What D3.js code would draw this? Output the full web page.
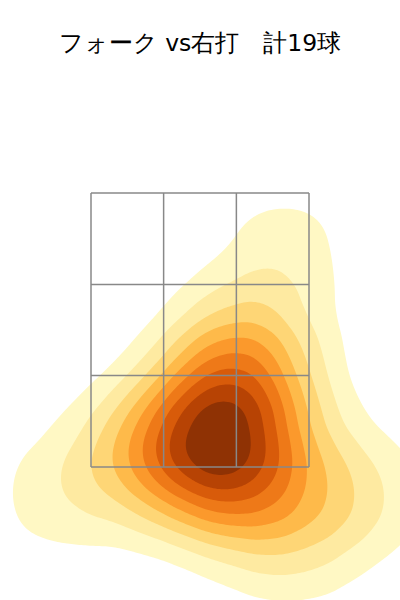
<!DOCTYPE html>
<html><head><meta charset="utf-8">
<script src="https://cdn.jsdelivr.net/npm/d3@7"></script>
<style>body{margin:0;background:#fff}svg{display:block}</style>
</head><body>
<script>
const title = "フォーク vs右打\u3000計19球";
// pitch locations (feet): horizontal (catcher view) and height
const plateX = [0.09,0.27,0.11,0.34,-0.04,0.23,0.46,0.11,0.34,0.91,1.29,0.69,0.65,0.30,0.69,-1.10,-0.53,-0.38,-0.23];
const plateZ = [2.21,2.14,1.92,1.81,1.66,1.62,1.48,1.33,1.26,1.41,1.26,0.89,3.08,2.50,2.17,1.30,1.59,1.77,1.41];
const zoneX = [-0.83, -0.277, 0.277, 0.83];
const zoneZ = [1.5, 2.167, 2.833, 3.5];

const W = 400, H = 600;
const svg = d3.select("body").append("svg").attr("width", W).attr("height", H);
const x = d3.scaleLinear().domain([-0.83, 0.83]).range([91, 309]);
const y = d3.scaleLinear().domain([1.5, 3.5]).range([467, 193]);

const pts = plateX.map((v, i) => [v, plateZ[i]]);
const density = d3.contourDensity()
  .x(d => x(d[0])).y(d => y(d[1]))
  .size([W, H]).cellSize(2).bandwidth(45);
const c = density.contours(pts);
const mx = c.max;
const levels = d3.range(1, 10).map(i => i * mx / 10);
const color = d3.scaleSequential(d3.interpolateYlOrBr).domain([0, mx]);

svg.append("g").selectAll("path").data(levels).join("path")
  .attr("d", v => d3.geoPath()(c(v)))
  .attr("fill", v => color(v))
  .attr("stroke", "none");

const g = svg.append("g").attr("stroke", "#888").attr("stroke-width", 1.5).attr("fill", "none");
zoneX.forEach(v => g.append("line").attr("x1", x(v)).attr("x2", x(v)).attr("y1", y(zoneZ[0])).attr("y2", y(zoneZ[3])));
zoneZ.forEach(v => g.append("line").attr("y1", y(v)).attr("y2", y(v)).attr("x1", x(zoneX[0])).attr("x2", x(zoneX[3])));

svg.append("text").attr("x", W/2).attr("y", 51).attr("text-anchor", "middle")
  .attr("font-family", "'DejaVu Sans', sans-serif").attr("font-size", 23.5)
  .attr("fill", "#000").text(title);
</script>
</body></html>
